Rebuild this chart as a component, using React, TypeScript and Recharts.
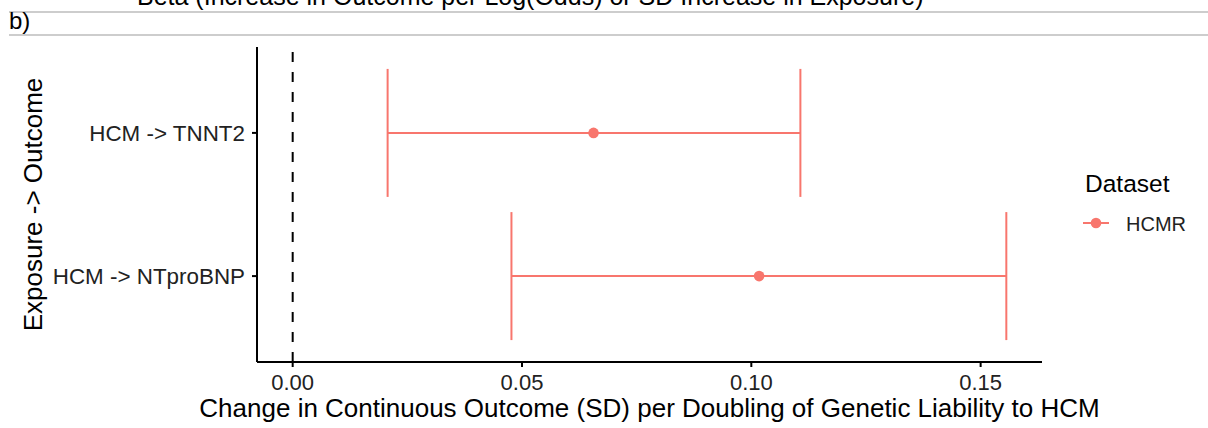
import React from "react";
import { ScatterChart, Scatter, XAxis, YAxis, ErrorBar, ReferenceLine } from "recharts";

const outcomes = ["HCM -> NTproBNP", "HCM -> TNNT2"];
const estimates = [0.1017, 0.0656];
const lowerCI = [0.0477, 0.0207];
const upperCI = [0.1556, 0.1107];
const xTicks = [0, 0.05, 0.1, 0.15];
const datasetName = "HCMR";

const RED = "#F8766D";
const FONT = "'Liberation Sans', Arial, Helvetica, sans-serif";

const data = outcomes.map((name, i) => ({
  name,
  pos: i + 1,
  beta: estimates[i],
  err: [estimates[i] - lowerCI[i], upperCI[i] - estimates[i]],
}));

// ggplot style 5% expansion around data (incl. the zero line)
const lo = Math.min(0, ...lowerCI);
const hi = Math.max(0, ...upperCI);
const pad = (hi - lo) * 0.05;
const xDomain = [lo - pad, hi + pad];

const Dot = (props: any) => <circle cx={props.cx} cy={props.cy} r={5.3} fill={RED} />;

const YTitle = (props: any) => {
  const vb = props.viewBox || { x: 0, y: 0, height: 0 };
  const x = vb.x + 42;
  const y = vb.y + vb.height / 2;
  return (
    <text x={x} y={y} transform={`rotate(-90, ${x}, ${y})`} textAnchor="middle" fontSize={26} fill="#000">
      Exposure -&gt; Outcome
    </text>
  );
};

export default function App() {
  return (
    <div style={{ position: "absolute", left: 0, top: 0, width: 1208, height: 428, background: "#fff", fontFamily: FONT, overflow: "hidden" }}>
      <ScatterChart width={1208} height={428} margin={{ top: 47, right: 166, bottom: 0, left: 0 }}>
        <XAxis
          type="number"
          dataKey="beta"
          domain={xDomain}
          allowDataOverflow
          ticks={xTicks}
          tickFormatter={(v: number) => v.toFixed(2)}
          height={66}
          axisLine={{ stroke: "#000", strokeWidth: 2 }}
          tickLine={{ stroke: "#000", strokeWidth: 2 }}
          tickSize={5}
          tickMargin={7}
          tick={{ fontSize: 22, fill: "#222" }}
          label={{ value: "Change in Continuous Outcome (SD) per Doubling of Genetic Liability to HCM", position: "insideBottom", offset: 11, fontSize: 26, fill: "#000" }}
        />
        <YAxis
          type="number"
          dataKey="pos"
          domain={[0.4, 2.6]}
          ticks={[1, 2]}
          tickFormatter={(v: number) => outcomes[v - 1]}
          width={257}
          axisLine={{ stroke: "#000", strokeWidth: 2 }}
          tickLine={{ stroke: "#000", strokeWidth: 2 }}
          tickSize={5}
          tickMargin={7}
          tick={{ fontSize: 22.4, fill: "#222" }}
          label={{ content: <YTitle /> }}
        />
        <ReferenceLine x={0} stroke="#000" strokeWidth={2} strokeDasharray="10 10" />
        <Scatter data={data} shape={<Dot />} isAnimationActive={false}>
          <ErrorBar dataKey="err" direction="x" width={64} stroke={RED} strokeWidth={2} isAnimationActive={false} />
        </Scatter>
      </ScatterChart>
      <svg width={1208} height={428} style={{ position: "absolute", left: 0, top: 0, pointerEvents: "none" }} fontFamily={FONT}>
        <text x={137} y={5} fontSize={25} fill="#000">
          Beta (Increase in Outcome per Log(Odds) or SD Increase in Exposure)
        </text>
        <line x1={9} x2={1208} y1={12} y2={12} stroke="#bdbdbd" strokeWidth={1.3} />
        <text x={9} y={29} fontSize={24} fill="#000">b)</text>
        <line x1={9} x2={1208} y1={35} y2={35} stroke="#bdbdbd" strokeWidth={1.3} />
        <text x={1085} y={192} fontSize={24.5} fill="#000">Dataset</text>
        <line x1={1083} x2={1109} y1={223} y2={223} stroke={RED} strokeWidth={2} />
        <circle cx={1096} cy={223} r={5.3} fill={RED} />
        <text x={1126} y={231} fontSize={20} fill="#222">{datasetName}</text>
      </svg>
    </div>
  );
}
